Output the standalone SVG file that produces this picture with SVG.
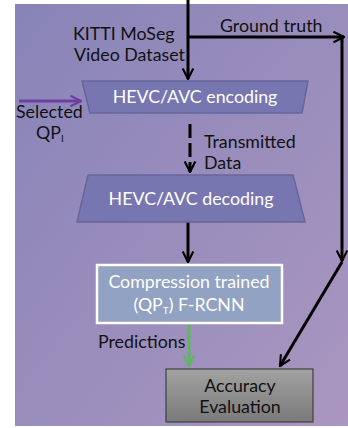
<svg xmlns="http://www.w3.org/2000/svg" width="348" height="428" viewBox="0 0 348 428">
<defs>
<linearGradient id="bg" x1="0" y1="0" x2="1" y2="1">
<stop offset="0" stop-color="#8884b8"/>
<stop offset="1" stop-color="#aa96c0"/>
</linearGradient>
<linearGradient id="grey" x1="0" y1="0" x2="0" y2="1">
<stop offset="0" stop-color="#a2a2a2"/>
<stop offset="1" stop-color="#7a7a7a"/>
</linearGradient>
<marker id="ahk" viewBox="0 0 10 10" refX="9" refY="5" markerWidth="4.4" markerHeight="4.4" orient="auto" markerUnits="strokeWidth">
<path d="M1,1 L9,5 L1,9" fill="none" stroke="#000" stroke-width="1.6"/>
</marker>
<marker id="ahg" viewBox="0 0 10 10" refX="9" refY="5" markerWidth="4.4" markerHeight="4.4" orient="auto" markerUnits="strokeWidth">
<path d="M1,1 L9,5 L1,9" fill="none" stroke="#5cb85c" stroke-width="1.6"/>
</marker>
<marker id="ahp" viewBox="0 0 10 10" refX="9" refY="5" markerWidth="4.4" markerHeight="4.4" orient="auto" markerUnits="strokeWidth">
<path d="M1,1 L9,5 L1,9" fill="none" stroke="#7040a0" stroke-width="1.6"/>
</marker>
</defs>
<style>
text{font-family:Lato,"Open Sans","Liberation Sans",sans-serif;font-size:17.8px}
.w{fill:#ffffff}
.k{fill:#111111}
.c{text-anchor:middle}
.ln{fill:none;stroke:#000;stroke-width:3}
</style>
<rect x="0" y="0" width="348" height="428" fill="#ffffff"/>
<rect x="15" y="4" width="333" height="422" fill="url(#bg)"/>

<g id="connectors">
<line class="ln" x1="188" y1="0" x2="188" y2="79" marker-end="url(#ahk)"/>
<line class="ln" x1="188" y1="37" x2="344" y2="37" marker-end="url(#ahk)"/>
<line class="ln" x1="342" y1="36" x2="342" y2="261" marker-end="url(#ahk)"/>
<line class="ln" x1="342" y1="262" x2="280" y2="366" marker-end="url(#ahk)"/>
<line class="ln" x1="190" y1="124" x2="190" y2="172" stroke-dasharray="14 5" marker-end="url(#ahk)"/>
<line class="ln" x1="188" y1="222" x2="188" y2="262" marker-end="url(#ahk)"/>
<line x1="189" y1="324" x2="189" y2="366" stroke="#5cb85c" stroke-width="3" marker-end="url(#ahg)"/>
<line x1="19" y1="101" x2="81" y2="101" stroke="#7040a0" stroke-width="3" marker-end="url(#ahp)"/>
</g>

<g id="label-dataset">
<text class="k" x="73" y="40">KITTI MoSeg</text>
<text class="k" x="74" y="61">Video Dataset</text>
</g>
<g id="label-gt"><text class="k" x="220" y="32">Ground truth</text></g>
<g id="label-qp">
<text class="k" x="16" y="118">Selected</text>
<text class="k" x="36" y="139">QP<tspan font-size="10" dy="3">I</tspan></text>
</g>
<g id="label-tx">
<text class="k" x="204" y="148">Transmitted</text>
<text class="k" x="204" y="169">Data</text>
</g>
<g id="label-pred"><text class="k" x="98" y="348">Predictions</text></g>

<g id="encoder">
<polygon points="82,81 308,81 302,113 90,113" fill="#7876b0" stroke="#67669a" stroke-width="1.5"/>
<text class="w c" x="195" y="103">HEVC/AVC encoding</text>
</g>
<g id="decoder">
<polygon points="88,175 293,175 305,222 77,222" fill="#7876b0" stroke="#67669a" stroke-width="1.5"/>
<text class="w c" x="191" y="205">HEVC/AVC decoding</text>
</g>
<g id="cnn">
<rect x="97" y="265" width="185" height="58" fill="#91a2c2" stroke="#ffffff" stroke-width="2.5"/>
<text class="w c" x="189" y="288">Compression trained</text>
<text class="w c" x="189" y="311">(QP<tspan font-size="10" dy="3">T</tspan><tspan dy="-3">) F-RCNN</tspan></text>
</g>
<g id="accuracy">
<rect x="166" y="369" width="147" height="53" fill="url(#grey)" stroke="#404040" stroke-width="1.2"/>
<text class="k c" x="240" y="392">Accuracy</text>
<text class="k c" x="240" y="413">Evaluation</text>
</g>
</svg>
